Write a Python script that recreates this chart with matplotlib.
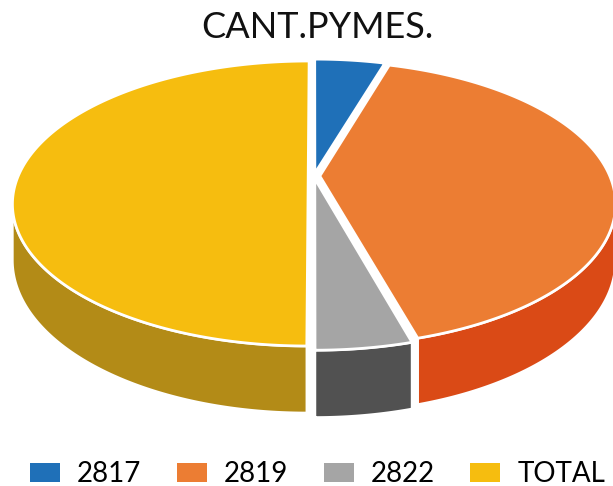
import matplotlib.pyplot as plt
import numpy as np
from matplotlib.patches import Polygon, Patch

# pie data
labels = ['2817', '2819', '2822', 'TOTAL']
values = [17, 150, 16, 183]
top_colors = ['#1F70B8', '#EC7D33', '#A5A5A5', '#F6BD0F']
side_colors = ['#134D82', '#DA4A16', '#515151', '#B38B17']

W, H = 613, 486
fig = plt.figure(figsize=(W / 100, H / 100), dpi=100)
ax = fig.add_axes([0, 0, 1, 1])
ax.set_xlim(0, W)
ax.set_ylim(H, 0)
ax.axis('off')

# tilted disc seen in perspective (pixel units, y pointing down)
cx, cy = 314, 176
rx, ry = 290, 137.2
k = 0.193          # perspective strength
depth = 54         # thickness of the disc
explode = 0.02


def project(X, Y, Z=0.0):
    w = 1 + k * Y
    return cx + rx * X / w, cy - (ry * Y + depth * Z) / w


frac = np.array(values, dtype=float) / sum(values)
edges = np.concatenate([[0], np.cumsum(frac)]) * 360
sil = np.degrees(np.arcsin(k))
front = (90 + sil, 270 - sil)

slices = []
for i in range(len(values)):
    a0, a1 = edges[i], edges[i + 1]
    m = np.radians((a0 + a1) / 2)
    slices.append((a0, a1, explode * np.sin(m), explode * np.cos(m)))

# outer walls
for (a0, a1, ox, oy), sc in zip(slices, side_colors):
    lo, hi = max(a0, front[0]), min(a1, front[1])
    if lo >= hi:
        continue
    t = np.radians(np.linspace(lo, hi, 120))
    X, Y = ox + np.sin(t), oy + np.cos(t)
    tx, ty = project(X, Y, 0)
    bx, by = project(X, Y, -1)
    pts = np.column_stack([np.r_[tx, bx[::-1]], np.r_[ty, by[::-1]]])
    ax.add_patch(Polygon(pts, closed=True, fc=sc, ec='white', lw=1.8,
                         joinstyle='round'))

# top faces
for (a0, a1, ox, oy), tc in zip(slices, top_colors):
    t = np.radians(np.linspace(a0, a1, 200))
    tx, ty = project(ox + np.sin(t), oy + np.cos(t), 0)
    px, py = project(ox, oy, 0)
    pts = np.column_stack([np.r_[px, tx], np.r_[py, ty]])
    ax.add_patch(Polygon(pts, closed=True, fc=tc, ec='white', lw=2,
                         joinstyle='round'))

ax.text(317, 28, 'CANT.PYMES.', ha='center', va='center', fontsize=26,
        family='Lato', color='#111111')

fs = 20
handles = [Patch(fc=c, ec='none') for c in top_colors]
ax.legend(handles, labels, ncol=4, loc='upper left',
          bbox_to_anchor=(30 / W, 1 - 461 / H), frameon=False,
          prop={'family': 'Lato', 'size': fs},
          handlelength=1.08, handleheight=0.68, handletextpad=0.61,
          columnspacing=1.28, borderaxespad=0, borderpad=0)

fig.savefig('out.png', dpi=100)
